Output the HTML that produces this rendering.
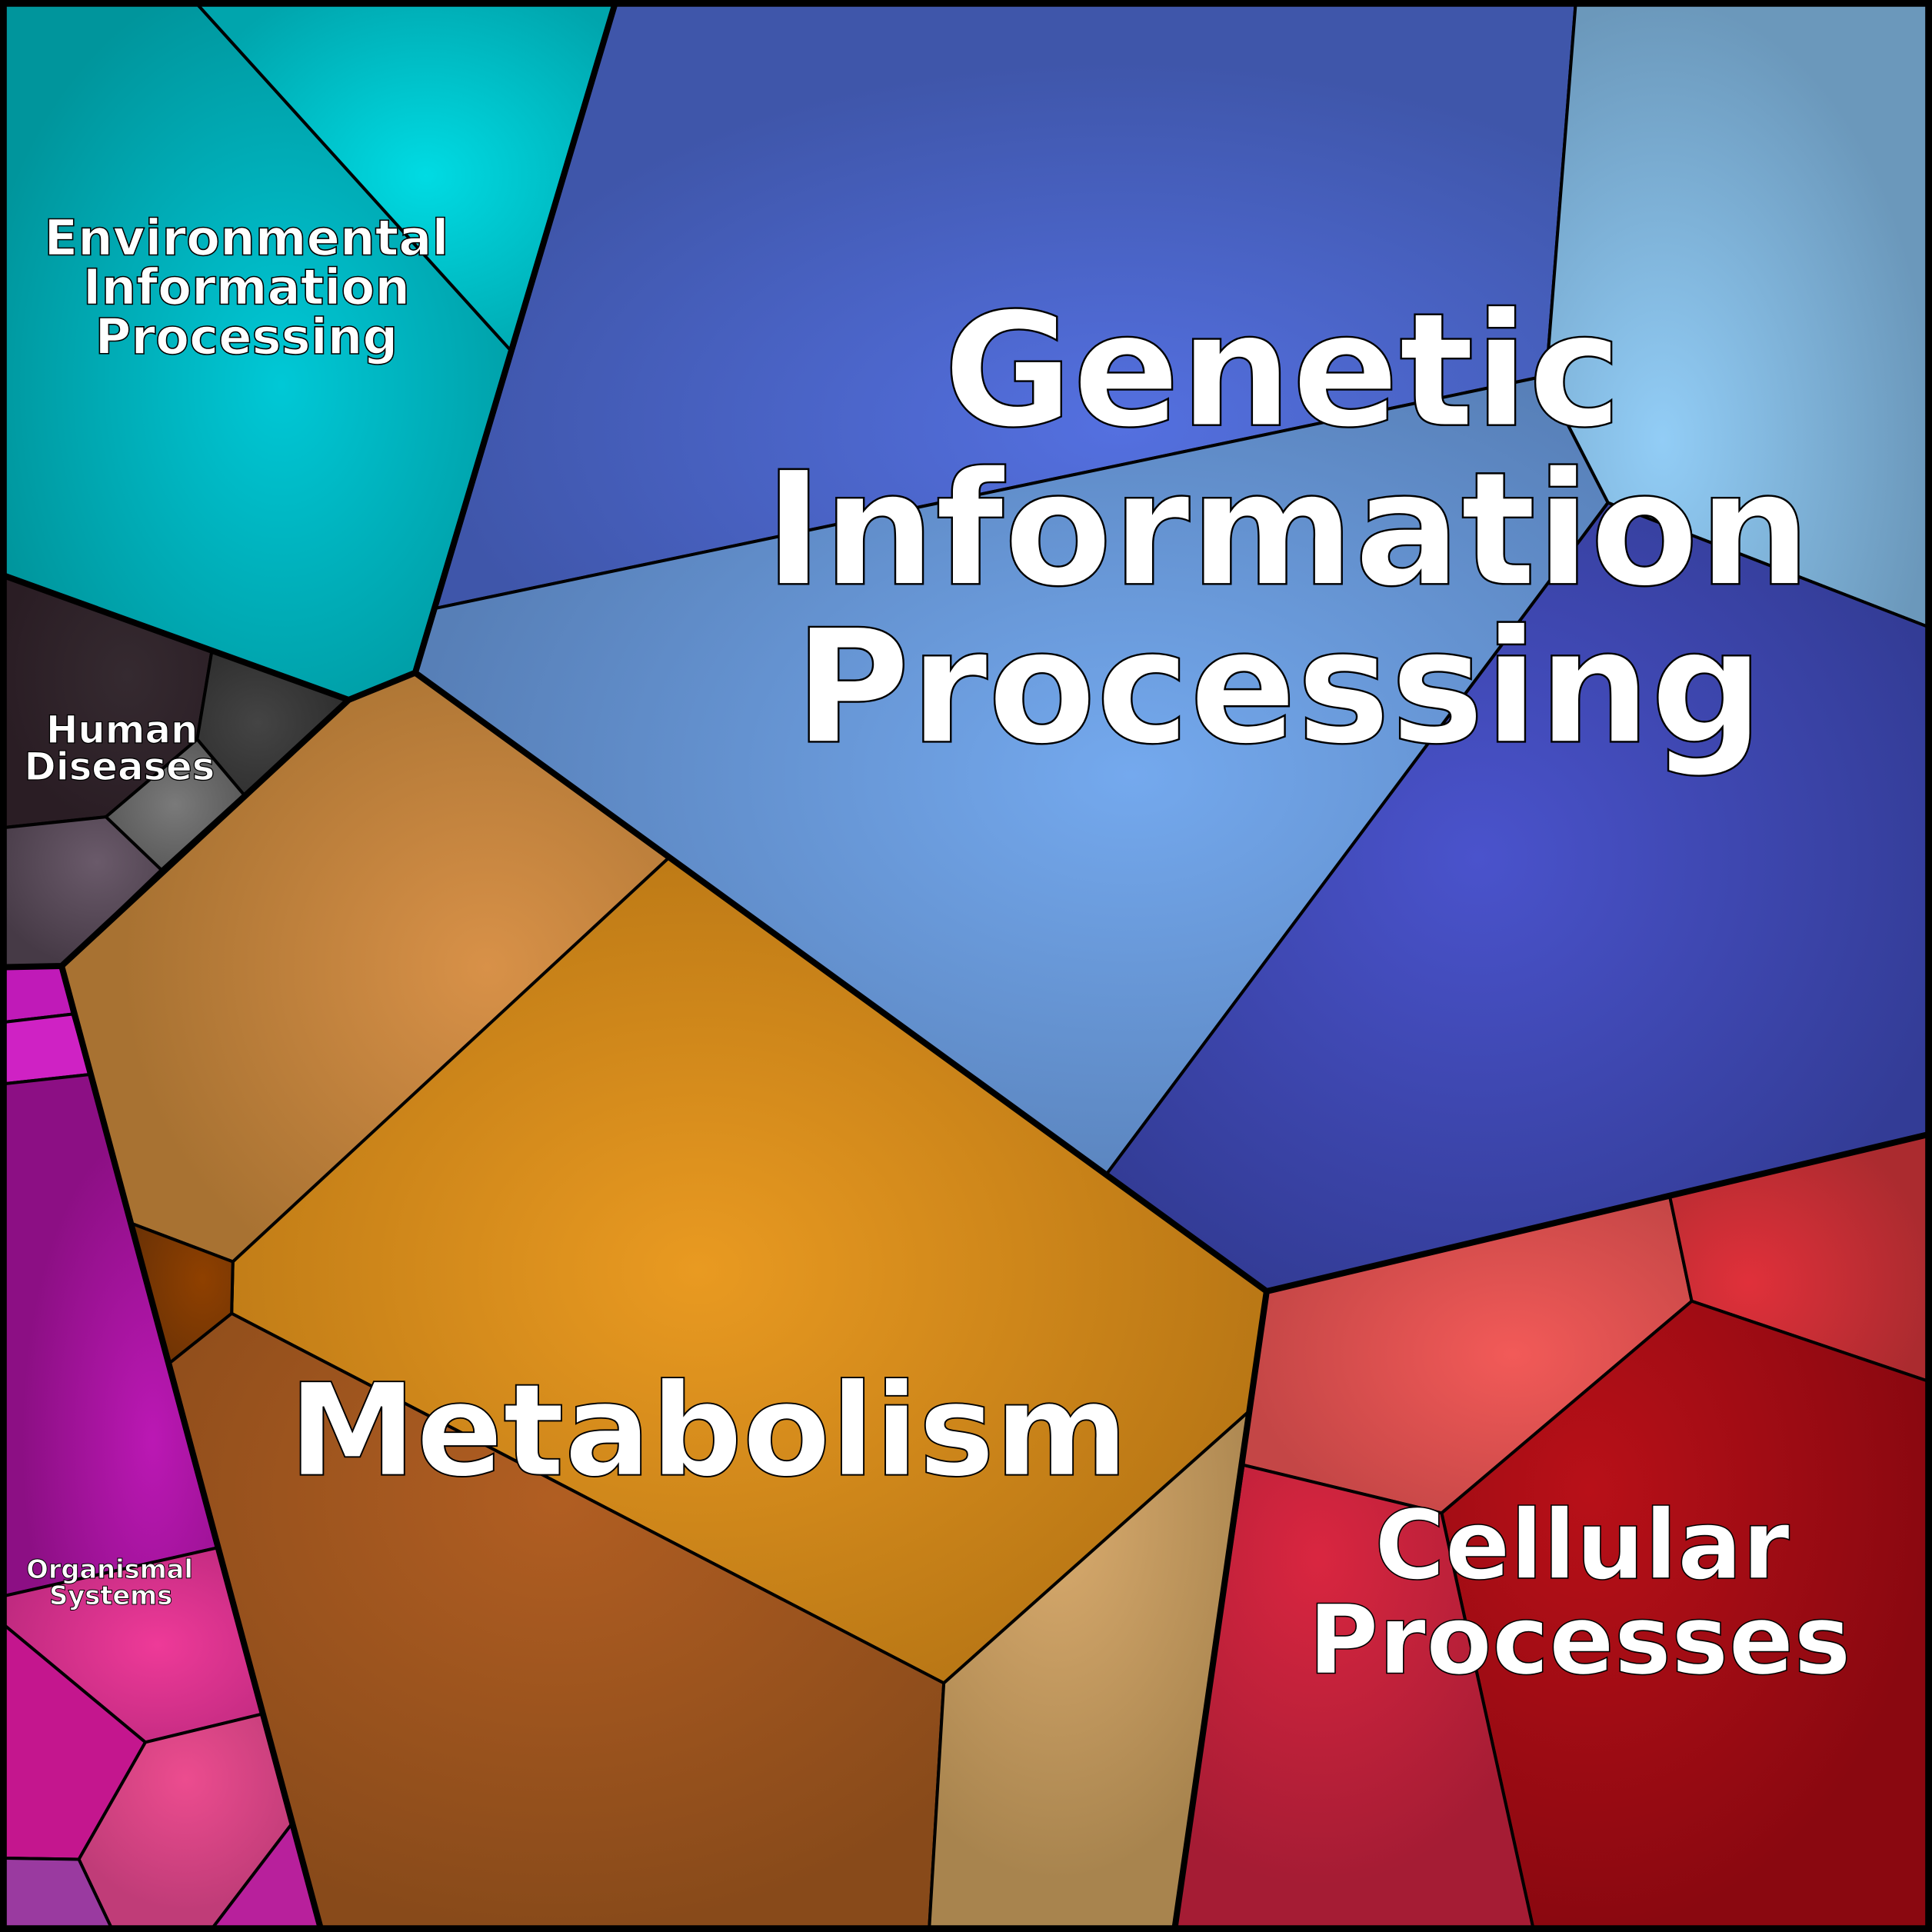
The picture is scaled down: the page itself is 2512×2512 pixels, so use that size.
<!DOCTYPE html>
<html><head><meta charset="utf-8"><style>
html,body{margin:0;padding:0;background:#000;}
svg{display:block;}
text{font-family:"DejaVu Sans","Liberation Sans",sans-serif;font-weight:bold;fill:#fff;stroke:#000;text-anchor:middle;}
</style></head><body>
<svg width="2512" height="2512" viewBox="0 0 1568 1568" xmlns="http://www.w3.org/2000/svg">
<defs>
<radialGradient id="gA" cx="0.55" cy="0.55" r="0.6"><stop offset="0" stop-color="#00c8d6"/><stop offset="1" stop-color="#00959c"/></radialGradient>
<radialGradient id="gB" cx="0.55" cy="0.5" r="0.6"><stop offset="0" stop-color="#00dbe3"/><stop offset="1" stop-color="#00a5ad"/></radialGradient>
<radialGradient id="gG1" cx="0.6" cy="0.7" r="0.6"><stop offset="0" stop-color="#5470e0"/><stop offset="1" stop-color="#3f56aa"/></radialGradient>
<radialGradient id="gG2" cx="0.3" cy="0.7" r="0.7"><stop offset="0" stop-color="#92cdf6"/><stop offset="1" stop-color="#6b98bb"/></radialGradient>
<radialGradient id="gG3" cx="0.6" cy="0.5" r="0.6"><stop offset="0" stop-color="#74a9ee"/><stop offset="1" stop-color="#577fb7"/></radialGradient>
<radialGradient id="gG4" cx="0.45" cy="0.45" r="0.6"><stop offset="0" stop-color="#4a53cc"/><stop offset="1" stop-color="#333c96"/></radialGradient>
<radialGradient id="gM1" cx="0.7" cy="0.5" r="0.6"><stop offset="0" stop-color="#d89148"/><stop offset="1" stop-color="#a87232"/></radialGradient>
<radialGradient id="gM2" cx="0.45" cy="0.5" r="0.6"><stop offset="0" stop-color="#e99a21"/><stop offset="1" stop-color="#b57414"/></radialGradient>
<radialGradient id="gM3" cx="0.7" cy="0.4" r="0.7"><stop offset="0" stop-color="#8f4000"/><stop offset="1" stop-color="#6e3305"/></radialGradient>
<radialGradient id="gM4" cx="0.5" cy="0.3" r="0.7"><stop offset="0" stop-color="#b15e22"/><stop offset="1" stop-color="#884a1a"/></radialGradient>
<radialGradient id="gM5" cx="0.4" cy="0.2" r="0.7"><stop offset="0" stop-color="#d9ab6e"/><stop offset="1" stop-color="#a8844e"/></radialGradient>
<radialGradient id="gC1" cx="0.6" cy="0.5" r="0.6"><stop offset="0" stop-color="#f25a58"/><stop offset="1" stop-color="#c44646"/></radialGradient>
<radialGradient id="gC2" cx="0.3" cy="0.6" r="0.7"><stop offset="0" stop-color="#e0303a"/><stop offset="1" stop-color="#ab2b2f"/></radialGradient>
<radialGradient id="gC3" cx="0.3" cy="0.3" r="0.7"><stop offset="0" stop-color="#b81018"/><stop offset="1" stop-color="#8a0810"/></radialGradient>
<radialGradient id="gC4" cx="0.4" cy="0.2" r="0.7"><stop offset="0" stop-color="#d92640"/><stop offset="1" stop-color="#a51c34"/></radialGradient>
<radialGradient id="gH1" cx="0.6" cy="0.4" r="0.6"><stop offset="0" stop-color="#352a30"/><stop offset="1" stop-color="#2a1d24"/></radialGradient>
<radialGradient id="gH2" cx="0.4" cy="0.5" r="0.6"><stop offset="0" stop-color="#444"/><stop offset="1" stop-color="#2e2e2e"/></radialGradient>
<radialGradient id="gH3" cx="0.5" cy="0.5" r="0.6"><stop offset="0" stop-color="#7a7a7a"/><stop offset="1" stop-color="#555"/></radialGradient>
<radialGradient id="gH4" cx="0.6" cy="0.3" r="0.7"><stop offset="0" stop-color="#6a5a6a"/><stop offset="1" stop-color="#463a46"/></radialGradient>
<radialGradient id="gO3" cx="0.7" cy="0.7" r="0.6"><stop offset="0" stop-color="#bb18b4"/><stop offset="1" stop-color="#8c0f84"/></radialGradient>
<radialGradient id="gO4" cx="0.6" cy="0.5" r="0.6"><stop offset="0" stop-color="#ee3a98"/><stop offset="1" stop-color="#c02a80"/></radialGradient>
<radialGradient id="gO6" cx="0.5" cy="0.3" r="0.6"><stop offset="0" stop-color="#ec4c8f"/><stop offset="1" stop-color="#c03c78"/></radialGradient>
</defs>
<g stroke="#000" stroke-width="2.5" stroke-linejoin="round">
<polygon fill="url(#gA)" points="0,0 157,0 415,285 337,546 283,568 0,466"/>
<polygon fill="url(#gB)" points="157,0 500,0 415,285"/>
<polygon fill="url(#gG1)" points="500,0 1279,0 1255,305 352,494 415,285"/>
<polygon fill="url(#gG2)" points="1279,0 1568,0 1568,510 1305,408 1270,340 1255,305"/>
<polygon fill="url(#gG3)" points="352,494 1255,305 1270,340 1305,408 898,953 337,546"/>
<polygon fill="url(#gG4)" points="1305,408 1568,510 1568,920 1028,1048 898,953"/>
<polygon fill="url(#gM1)" points="283,568 337,546 543,696 189,1024 107,993 50,784"/>
<polygon fill="url(#gM2)" points="543,696 898,953 1028,1048 1013,1146 766,1366 188,1066 189,1024"/>
<polygon fill="url(#gM3)" points="107,993 189,1024 188,1066 138,1106"/>
<polygon fill="url(#gM4)" points="138,1106 188,1066 766,1366 754,1568 261,1568"/>
<polygon fill="url(#gM5)" points="766,1366 1013,1146 953,1568 754,1568"/>
<polygon fill="url(#gC1)" points="1028,1048 1355,970 1373,1056 1170,1228 1009,1189 1013,1146"/>
<polygon fill="url(#gC2)" points="1355,970 1568,920 1568,1122 1373,1056"/>
<polygon fill="url(#gC3)" points="1373,1056 1568,1122 1568,1568 1245,1568 1170,1228"/>
<polygon fill="url(#gC4)" points="1009,1189 1170,1228 1245,1568 953,1568"/>
<polygon fill="url(#gH1)" points="0,466 172,528 160,600 86,663 0,672"/>
<polygon fill="url(#gH2)" points="172,528 283,568 198,645 160,600"/>
<polygon fill="url(#gH3)" points="160,600 198,645 131,706 86,663"/>
<polygon fill="url(#gH4)" points="0,672 86,663 131,706 50,784 0,785"/>
<polygon fill="#c01ab8" points="0,785 50,784 59,823 0,830"/>
<polygon fill="#cf22c4" points="0,830 59,823 73,872 0,880"/>
<polygon fill="url(#gO3)" points="0,880 73,872 177,1256 0,1296"/>
<polygon fill="url(#gO4)" points="0,1296 177,1256 213,1391 118,1414 0,1316"/>
<polygon fill="#c4168e" points="0,1316 118,1414 64,1509 0,1508"/>
<polygon fill="url(#gO6)" points="118,1414 213,1391 237,1480 170,1568 92,1568 64,1509"/>
<polygon fill="#b8209c" points="237,1480 261,1568 170,1568"/>
<polygon fill="#9a3aa0" points="0,1508 64,1509 92,1568 0,1568"/>
</g>
<g fill="none" stroke="#000" stroke-width="5" stroke-linejoin="round">
<polyline points="500,0 337,546 283,568 0,466"/>
<polyline points="337,546 1028,1048 1568,920"/>
<polyline points="1028,1048 953,1568"/>
<polyline points="283,568 50,784 0,785"/>
<polyline points="50,784 261,1568"/>
<rect x="3" y="3" width="1562" height="1562"/>
</g>
<text font-size="40" stroke-width="1" x="200" y="207">Environmental</text>
<text font-size="40" stroke-width="1" x="200" y="247">Information</text>
<text font-size="40" stroke-width="1" x="200" y="287">Processing</text>
<text font-size="128" stroke-width="1.5" x="1041" y="345">Genetic</text>
<text font-size="128" stroke-width="1.5" x="1045" y="474">Information</text>
<text font-size="128" stroke-width="1.5" x="1038" y="602">Processing</text>
<text font-size="31" stroke-width="0.8" x="99" y="603">Human</text>
<text font-size="31" stroke-width="0.8" x="97" y="633">Diseases</text>
<text font-size="104" stroke-width="1.2" x="575" y="1197">Metabolism</text>
<text font-size="78" stroke-width="1" x="1284" y="1281">Cellular</text>
<text font-size="78" stroke-width="1" x="1282" y="1358">Processes</text>
<text font-size="21" stroke-width="0.6" x="89" y="1281">Organismal</text>
<text font-size="21" stroke-width="0.6" x="90" y="1302">Systems</text>
</svg>
</body></html>
